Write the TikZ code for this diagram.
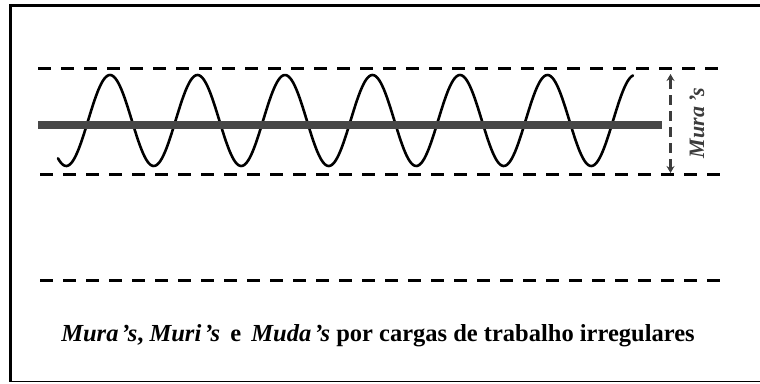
\documentclass[tikz,border=0pt]{standalone}
\usepackage{fontspec}
\setmainfont{Liberation Serif}
\usetikzlibrary{arrows.meta}
\definecolor{bargray}{HTML}{474747}
\definecolor{lblgray}{HTML}{3C3C3C}
\tikzset{
  frameline/.style={line width=3pt,black},
  guide/.style={line width=3pt,black,dash pattern=on 13pt off 10pt},
  wave/.style={line width=2.6pt,black,line cap=round},
  bar/.style={line width=8.5pt,bargray},
  span/.style={line width=2.6pt,lblgray,dash pattern=on 10pt off 6pt,{Stealth[length=7pt,width=8pt]}-{Stealth[length=7pt,width=8pt]}},
}
\begin{document}
\begin{tikzpicture}[x=1pt,y=-1pt]
\useasboundingbox (0,0) rectangle (760,383);
% frame (open on the right)
\draw[line width=3pt] (760,5) -- (10.5,5) -- (10.5,381.5);
\draw[line width=1.5pt] (9,381.5) -- (760,381.5);
% dashed guide lines
\coordinate (t1) at (38,68);  \coordinate (t2) at (722,68);
\coordinate (b1) at (40,174); \coordinate (b2) at (724,174);
\coordinate (l1) at (40,280); \coordinate (l2) at (720,280);
\draw[guide] (t1) -- (t2);
\draw[guide] (b1) -- (b2);
\draw[guide] (l1) -- (l2);
% wave
\draw[wave] plot[domain=58:633,samples=400,smooth] (\x,{120.5-45.5*sin(4.1142857*(\x-88.1))});
% level bar
\coordinate (m1) at (38,125); \coordinate (m2) at (662,125);
\draw[bar] (m1) -- (m2);
% span arrow
\coordinate (a1) at (670.5,173); \coordinate (a2) at (670.5,74);
\draw[span] (a1) -- (a2);
\node[rotate=90,text=lblgray,font=\fontsize{22}{26}\selectfont\bfseries\itshape] (lbl) at (697,123) {Mura\hspace{0.2em}’s};
% caption
\node[font=\fontsize{24.5}{29}\selectfont\bfseries,anchor=base] (cap) at (378,341)
 {\textit{Mura\hspace{0.12em}’s}, \textit{Muri\hspace{0.12em}’s}\, e\, \textit{Muda\hspace{0.12em}’s} por cargas de trabalho irregulares};
\end{tikzpicture}
\end{document}
